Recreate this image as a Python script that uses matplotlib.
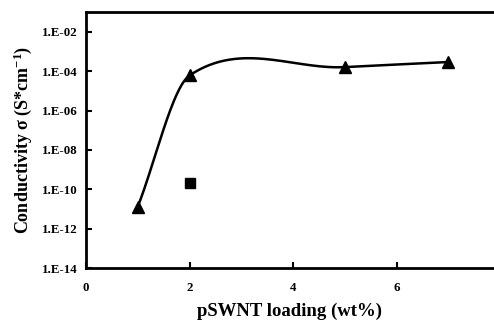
import numpy as np
import matplotlib
matplotlib.use('Agg')
from matplotlib import pyplot as plt
from matplotlib.ticker import FixedLocator

# data
loading_tri = [1, 2, 5, 7]
cond_tri = [1.3e-11, 6.0e-5, 1.6e-4, 2.9e-4]
loading_sq = [2]
cond_sq = [2.0e-10]
yticks = [1e-14, 1e-12, 1e-10, 1e-8, 1e-6, 1e-4, 1e-2]
ytick_labels = ['1.E-14', '1.E-12', '1.E-10', '1.E-08', '1.E-06', '1.E-04', '1.E-02']
xticks = [0, 2, 4, 6]


def smooth_curve(x, y, n=80):
    # cubic hermite through the points, finite difference slopes
    x = np.asarray(x, float)
    y = np.asarray(y, float)
    m = np.zeros(len(x))
    m[0] = (y[1] - y[0]) / (x[1] - x[0])
    m[-1] = (y[-1] - y[-2]) / (x[-1] - x[-2])
    for i in range(1, len(x) - 1):
        m[i] = (y[i + 1] - y[i - 1]) / (x[i + 1] - x[i - 1])
    xs_all, ys_all = [], []
    for i in range(len(x) - 1):
        h = x[i + 1] - x[i]
        t = np.linspace(0, 1, n)
        h00 = 2 * t ** 3 - 3 * t ** 2 + 1
        h10 = t ** 3 - 2 * t ** 2 + t
        h01 = -2 * t ** 3 + 3 * t ** 2
        h11 = t ** 3 - t ** 2
        xs_all.append(x[i] + t * h)
        ys_all.append(h00 * y[i] + h10 * h * m[i] + h01 * y[i + 1] + h11 * h * m[i + 1])
    return np.concatenate(xs_all), np.concatenate(ys_all)


plt.rcParams['font.family'] = 'Liberation Serif'
plt.rcParams['font.weight'] = 'bold'
plt.rcParams['mathtext.fontset'] = 'custom'
plt.rcParams['mathtext.rm'] = 'Liberation Serif:bold'
plt.rcParams['mathtext.bf'] = 'Liberation Serif:bold'
plt.rcParams['mathtext.default'] = 'bf'

fig = plt.figure(figsize=(4.94, 3.25), dpi=100)
ax = fig.add_axes([0.174, 0.175, 0.826, 0.788])

xs, ly = smooth_curve(loading_tri, np.log10(cond_tri))
ax.plot(xs, 10 ** ly, color='black', lw=1.8)
ax.plot(loading_tri, cond_tri, '^', color='black', ms=8)
ax.plot(loading_sq, cond_sq, 's', color='black', ms=6.5)

ax.set_yscale('log')
ax.set_ylim(1e-14, 1e-1)
ax.set_xlim(0, 7.88)
ax.yaxis.set_major_locator(FixedLocator(yticks))
ax.set_yticklabels(ytick_labels)
ax.yaxis.set_minor_locator(FixedLocator([]))
ax.set_xticks(xticks)

ax.spines['right'].set_visible(False)
for s in ['left', 'bottom', 'top']:
    ax.spines[s].set_linewidth(2)
ax.tick_params(direction='in', length=4, width=1.5, labelsize=9.3)
ax.tick_params(axis='y', pad=6)
ax.tick_params(axis='x', pad=10)

ax.set_xlabel('pSWNT loading (wt%)', fontsize=13.5, fontweight='bold', labelpad=6)
ax.set_ylabel('Conductivity σ (S*cm$^{-1}$)', fontsize=13, fontweight='bold', labelpad=6)

fig.savefig('out.png', dpi=100)
